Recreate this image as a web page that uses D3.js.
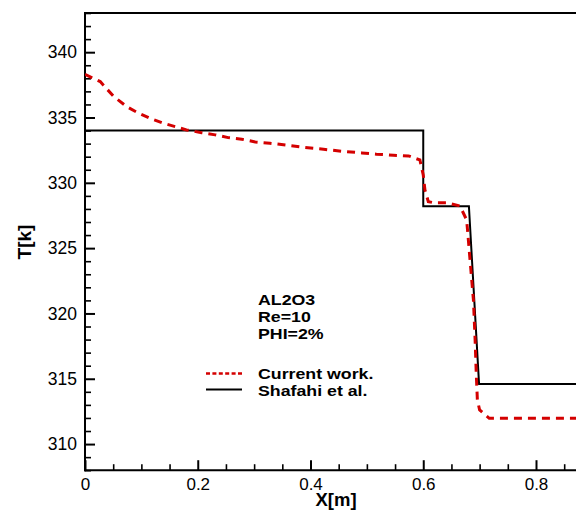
<!DOCTYPE html>
<html>
<head>
<meta charset="utf-8">
<script src="https://cdn.jsdelivr.net/npm/d3@7"></script>
<style>
  html, body { margin: 0; padding: 0; background: #fff; }
  svg { display: block; font-family: "Liberation Sans", Arial, Helvetica, sans-serif; }
</style>
</head>
<body>
<svg id="chart" width="576" height="512"></svg>
<script>
// ---- data ----
const xMajorTicks = [0, 0.2, 0.4, 0.6, 0.8];
const xTickLabels = ["0", "0.2", "0.4", "0.6", "0.8"];
const yMajorTicks = [310, 315, 320, 325, 330, 335, 340];
const yTickLabels = ["310", "315", "320", "325", "330", "335", "340"];

const currentX = [0, 0.027, 0.05, 0.074, 0.095, 0.115, 0.139, 0.16, 0.18, 0.207, 0.231, 0.254, 0.278, 0.302,
  0.328, 0.358, 0.387, 0.423, 0.455, 0.491, 0.517, 0.547, 0.574, 0.594, 0.600, 0.603, 0.609, 0.618, 0.641,
  0.665, 0.677, 0.684, 0.689, 0.692, 0.694, 0.696, 0.700, 0.717, 0.9];
const currentT = [338.3, 337.75, 336.65, 335.83, 335.33, 334.94, 334.56, 334.3, 334.05, 333.84, 333.67, 333.46, 333.34, 333.13,
  333.03, 332.88, 332.72, 332.57, 332.42, 332.29, 332.19, 332.11, 332.06, 331.75, 330.6, 329.45, 328.56, 328.48, 328.48,
  328.23, 327.16, 323.58, 321.03, 317.97, 315.42, 313.38, 312.61, 311.97, 311.97];

const shafahiX = [0, 0.6, 0.6, 0.681, 0.699, 0.9];
const shafahiT = [334, 334, 328.2, 328.2, 314.6, 314.6];

const annotationLines = ["AL2O3", "Re=10", "PHI=2%"];
const legendLabels = ["Current work.", "Shafahi et al."];

// ---- layout ----
const svg = d3.select("#chart");
const padL = 85, padT = 13, padB = 470.2;
const x = d3.scaleLinear().domain([0, 0.9]).range([padL, padL + 0.9 * 563.75]);
const y = d3.scaleLinear().domain([308, 343]).range([padB, padT]);

svg.append("defs").append("clipPath").attr("id", "clip")
  .append("rect").attr("x", padL).attr("y", padT - 2).attr("width", 600).attr("height", padB - padT + 4);

// minor ticks
const xMinor = d3.range(0, 0.9001, 0.05).filter(v => !xMajorTicks.some(m => Math.abs(m - v) < 1e-6));
const yMinor = d3.range(308, 343.001, 1).filter(v => !yMajorTicks.includes(v));

svg.append("g").attr("transform", `translate(0,${padB})`)
  .call(d3.axisBottom(x).tickValues(xMinor).tickSize(-6).tickFormat(""))
  .call(g => g.select(".domain").remove())
  .call(g => g.selectAll("line").attr("stroke", "#000").attr("stroke-width", 1.6));
svg.append("g").attr("transform", `translate(${padL},0)`)
  .call(d3.axisLeft(y).tickValues(yMinor).tickSize(-6).tickFormat(""))
  .call(g => g.select(".domain").remove())
  .call(g => g.selectAll("line").attr("stroke", "#000").attr("stroke-width", 1.6));

// major ticks with labels
svg.append("g").attr("transform", `translate(0,${padB})`)
  .call(d3.axisBottom(x).tickValues(xMajorTicks).tickSize(-10).tickPadding(8)
    .tickFormat((d, i) => xTickLabels[i]))
  .call(g => g.select(".domain").remove())
  .call(g => g.selectAll("line").attr("stroke", "#000").attr("stroke-width", 2))
  .call(g => g.selectAll("text").attr("font-size", 17).attr("fill", "#000")
    .attr("font-family", "'Liberation Sans', Arial, sans-serif"));
svg.append("g").attr("transform", `translate(${padL},0)`)
  .call(d3.axisLeft(y).tickValues(yMajorTicks).tickSize(-10).tickPadding(8)
    .tickFormat((d, i) => yTickLabels[i]))
  .call(g => g.select(".domain").remove())
  .call(g => g.selectAll("line").attr("stroke", "#000").attr("stroke-width", 2))
  .call(g => g.selectAll("text").attr("font-size", 17.5).attr("fill", "#000")
    .attr("font-family", "'Liberation Sans', Arial, sans-serif"));

// frame lines (left, bottom, top)
svg.append("line").attr("x1", padL).attr("x2", padL).attr("y1", padT).attr("y2", padB + 1)
  .attr("stroke", "#000").attr("stroke-width", 2);
svg.append("line").attr("x1", padL - 1).attr("x2", 600).attr("y1", padB).attr("y2", padB)
  .attr("stroke", "#000").attr("stroke-width", 2);
svg.append("line").attr("x1", padL - 1).attr("x2", 600).attr("y1", padT).attr("y2", padT)
  .attr("stroke", "#000").attr("stroke-width", 2);

// data lines
const line = d3.line().x(d => x(d[0])).y(d => y(d[1]));
const plot = svg.append("g").attr("clip-path", "url(#clip)");
plot.append("path")
  .datum(shafahiX.map((v, i) => [v, shafahiT[i]]))
  .attr("d", line).attr("fill", "none").attr("stroke", "#000").attr("stroke-width", 2);
plot.append("path")
  .datum(currentX.map((v, i) => [v, currentT[i]]))
  .attr("d", line).attr("fill", "none").attr("stroke", "#d40000").attr("stroke-width", 3)
  .attr("stroke-dasharray", "8,6");

// axis titles
svg.append("text").attr("x", 336).attr("y", 506).attr("text-anchor", "middle")
  .attr("font-size", 18.5).attr("font-weight", "bold").text("X[m]");
svg.append("text").attr("transform", "translate(31,242) rotate(-90)").attr("text-anchor", "middle")
  .attr("font-size", 19).attr("font-weight", "bold").text("T[k]");

// annotation
annotationLines.forEach((t, i) => {
  svg.append("text").attr("font-size", 14.8).attr("font-weight", "bold")
    .attr("transform", `translate(258,${305 + i * 17}) scale(1.2,1.05)`).text(t);
});

// legend
svg.append("line").attr("x1", 206).attr("x2", 243).attr("y1", 373.5).attr("y2", 373.5)
  .attr("stroke", "#d40000").attr("stroke-width", 2.5).attr("stroke-dasharray", "4,2.4");
svg.append("line").attr("x1", 206).attr("x2", 242).attr("y1", 389.5).attr("y2", 389.5)
  .attr("stroke", "#000").attr("stroke-width", 2);
legendLabels.forEach((t, i) => {
  svg.append("text").attr("font-size", 14.8).attr("font-weight", "bold")
    .attr("transform", `translate(258,${378.5 + i * 17}) scale(1.2,1.05)`).text(t);
});
</script>
</body>
</html>
